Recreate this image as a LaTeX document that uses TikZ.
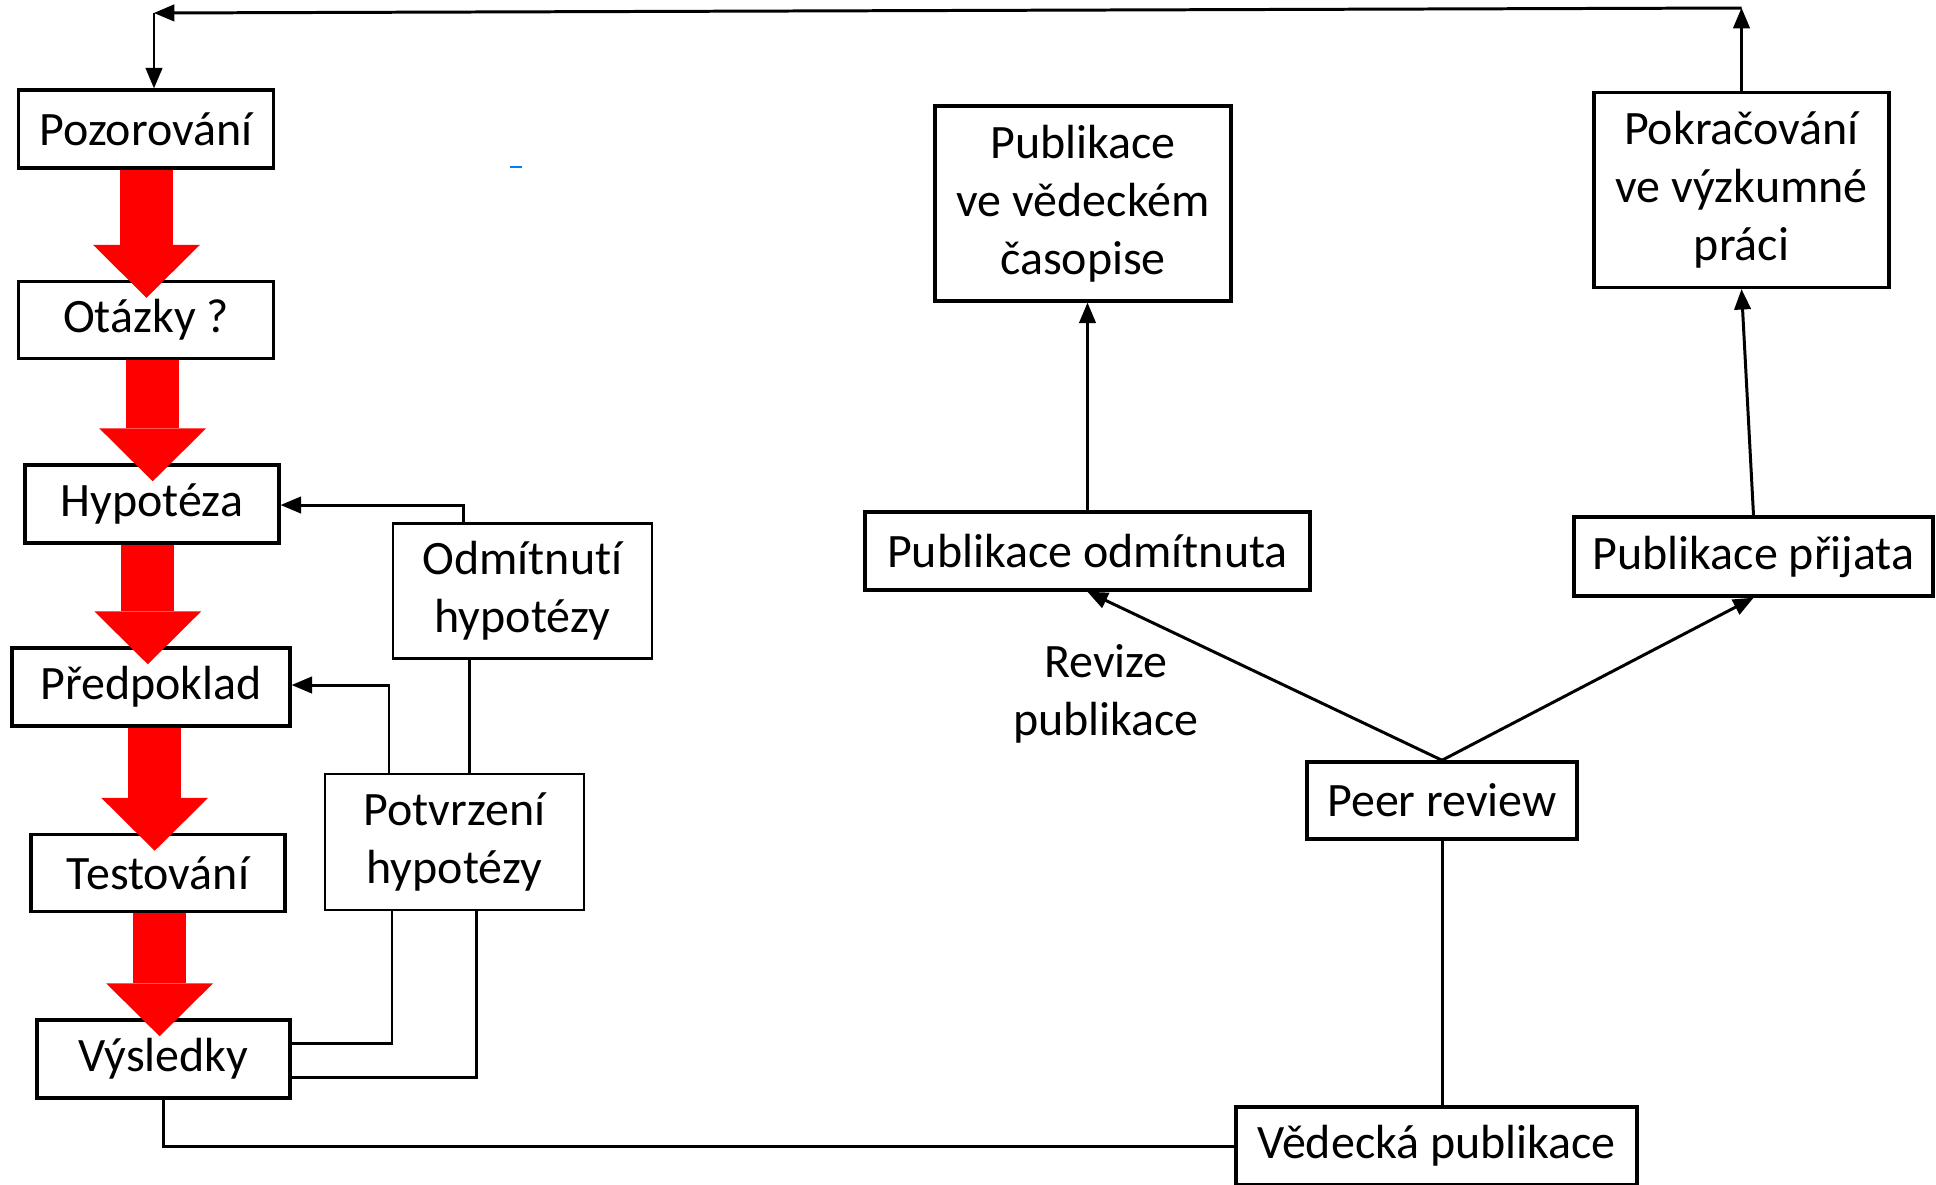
\documentclass[tikz,border=0pt]{standalone}
\usepackage{fontspec}
\setmainfont{Carlito}[Ligatures=NoCommon]
\usepackage{tikz}
\usetikzlibrary{positioning, calc, arrows, arrows.meta}
\tikzset{>=triangle 45}
\newcommand{\boxfont}{\fontsize{27.3}{33}\selectfont}
\tikzset{
  box/.style={draw, line width=2pt, fill=white, inner sep=0pt, align=center, font=\boxfont},
  conn/.style={line width=1.7pt},
  redarrow/.style={red, line width=1.06cm, -{Triangle[length=1.06cm, width=2.14cm, line width=0pt]}}
}

\begin{document}
\begin{tikzpicture}[x=0.02cm, y=-0.02cm]
    \useasboundingbox (0,0) rectangle (1936,1184);

    % left column
    \node[box, minimum width=5.1cm, minimum height=1.56cm] (pozor) at (146,129) {Pozorování};
    \node[box, minimum width=5.1cm, minimum height=1.54cm] (otazky) at (146,320) {Otázky ?};
    \node[box, minimum width=5.08cm, minimum height=1.56cm] (hypo) at (152,504) {Hypotéza};
    \node[box, minimum width=5.56cm, minimum height=1.56cm] (predp) at (151,687) {Předpoklad};
    \node[box, minimum width=5.08cm, minimum height=1.54cm] (test) at (158,873) {Testování};
    \node[box, minimum width=5.06cm, minimum height=1.56cm] (vysl) at (163.5,1059) {Výsledky};

    \node[box, line width=1.4pt, minimum width=5.18cm, minimum height=2.7cm] (odmit) at (522.5,591) {Odmítnutí\\hypotézy};
    \node[box, line width=1.4pt, minimum width=5.18cm, minimum height=2.72cm] (potvr) at (454.5,842) {Potvrzení\\hypotézy};

    % right part
    \node[box, minimum width=5.92cm, minimum height=3.9cm] (casop) at (1083,203.5) {Publikace\\ve vědeckém\\časopise};
    \node[box, minimum width=5.9cm, minimum height=3.9cm] (pokr) at (1741.5,190) {Pokračování\\ve výzkumné\\práci};
    \node[box, minimum width=8.9cm, minimum height=1.56cm] (odmitnuta) at (1087.5,551) {Publikace odmítnuta};
    \node[box, minimum width=7.18cm, minimum height=1.58cm] (prijata) at (1753.5,556.5) {Publikace přijata};
    \node[box, minimum width=5.4cm, minimum height=1.54cm] (peer) at (1442,800.5) {Peer review};
    \node[box, minimum width=8.02cm, minimum height=1.56cm] (vedecka) at (1436.5,1146) {Vědecká publikace};
    \node[font=\boxfont, align=center] (revize) at (1106,694) {Revize\\publikace};

    % red arrows
    \foreach \a/\b/\x in {pozor/otazky/146.5, otazky/hypo/152.7, hypo/predp/147.8, predp/test/154.7, test/vysl/159.6}
      \draw[redarrow] (\a.south -| \x,0) -- ($(\b.north -| \x,0)+(0,18)$);

    % back to the top
    \coordinate (topR) at (pokr.north |- 0,8);
    \coordinate (topL) at (154,13);
    \draw[conn, ->] (pokr.north) -- (topR);
    \draw[conn, ->] (topR) -- (topL);
    \draw[conn, ->] (topL) -- (topL |- pozor.north);

    % results -> hypothesis loops
    \coordinate (a1) at (392,1043);
    \coordinate (a2) at (389,685);
    \coordinate (b1) at (476,1077);
    \coordinate (b3) at (463,505);
    \draw[conn] (vysl.east |- a1) -- (a1) -- (a1 |- potvr.south);
    \draw[conn, ->] (potvr.north -| a2) -- (a2) -- (predp.east |- a2);
    \draw[conn] (vysl.east |- b1) -- (b1) -- (b1 |- potvr.south);
    \draw[conn] (potvr.north -| 469,0) -- (odmit.south -| 469,0);
    \draw[conn, ->] (odmit.north -| b3) -- (b3) -- (hypo.east |- b3);

    % publication
    \draw[conn] (vysl.south) |- (vedecka.west);
    \draw[conn] (peer.south) -- (peer.south |- vedecka.north);
    \draw[conn, ->] (peer.north) -- (odmitnuta.south);
    \draw[conn, ->] (peer.north) -- (prijata.south);
    \draw[conn, ->] (odmitnuta.north) -- (odmitnuta.north |- casop.south);
    \draw[conn, ->] (prijata.north) -- (pokr.south);

    \draw[blue!50!cyan, line width=0.8pt] (510,167) -- (522,167);
\end{tikzpicture}
\end{document}
